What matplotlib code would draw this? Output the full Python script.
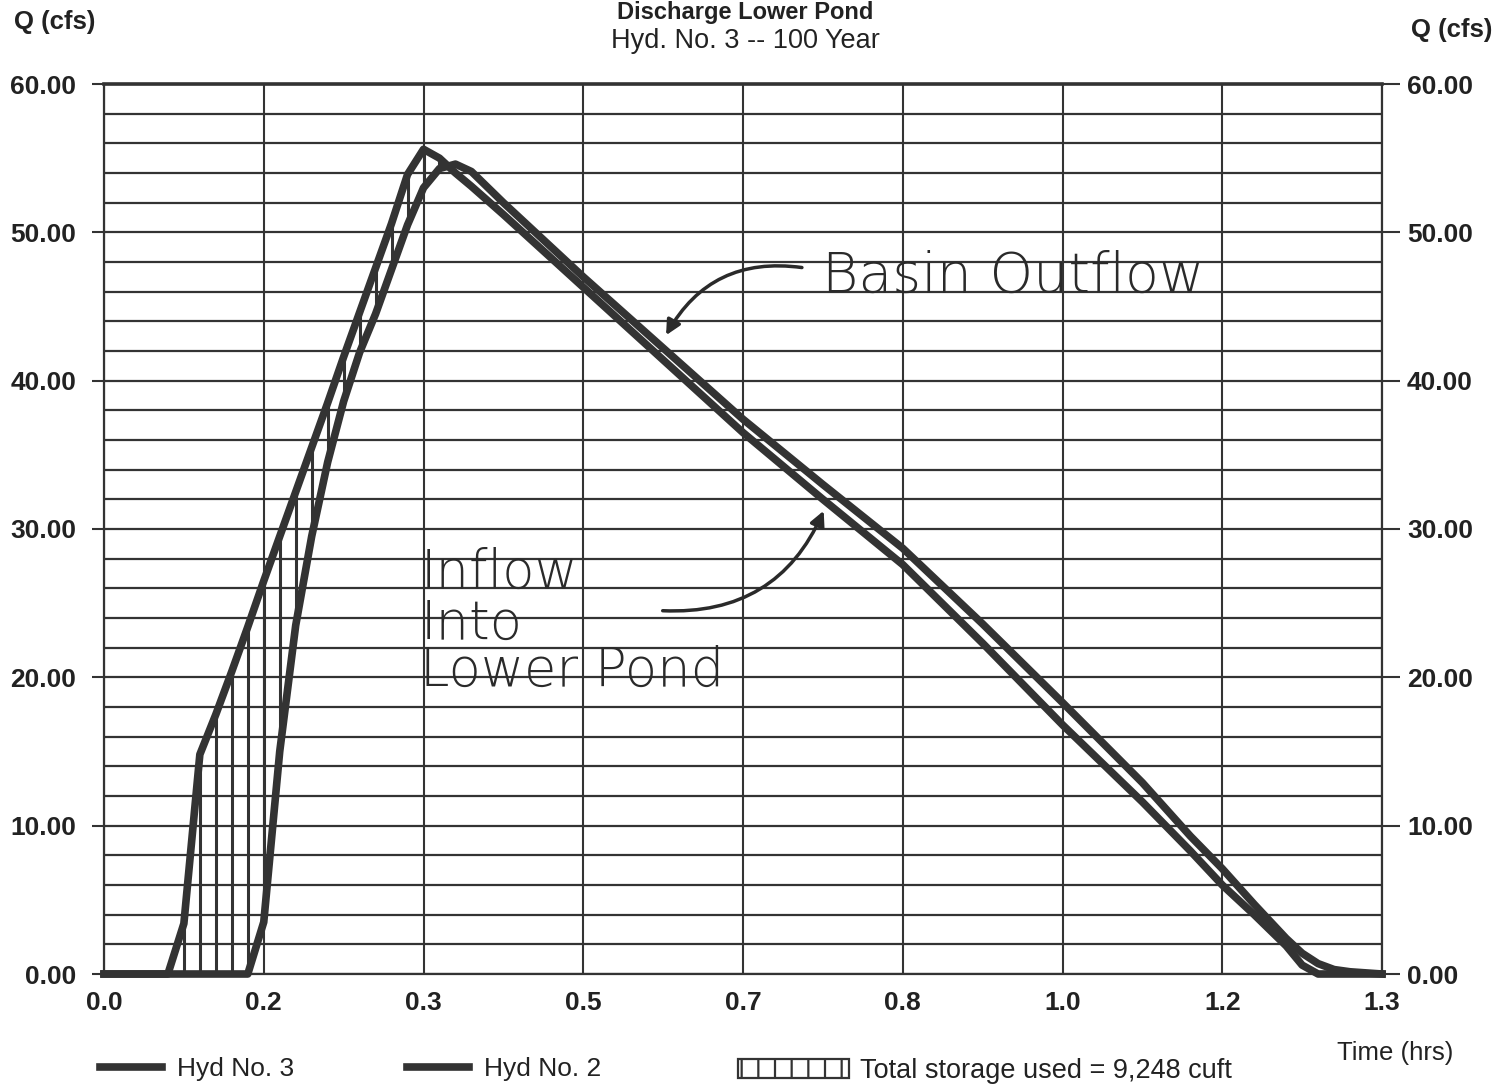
import matplotlib.pyplot as plt
import numpy as np
from matplotlib.lines import Line2D
from matplotlib.patches import Patch
from matplotlib.ticker import FormatStrFormatter

plt.rcParams['font.family'] = ['Liberation Sans', 'DejaVu Sans']
plt.rcParams['hatch.linewidth'] = 1.6
plt.rcParams['hatch.color'] = '#333333'

# hydrograph values (time in minutes, Q in cfs)
time_min = [0, 4, 5, 6, 7, 8, 9, 10, 11, 12, 13, 14, 15, 16, 17, 18, 19, 20,
            21, 22, 23, 25, 30, 35, 40, 45, 50, 55, 60, 65, 68, 70, 72, 74,
            75, 76, 77, 78, 80]
inflow_hyd2 = [0.0, 0.0, 3.4, 14.8, 17.5, 20.4, 23.4, 26.5, 29.5, 32.5, 35.5,
               38.5, 41.6, 44.6, 47.6, 50.6, 53.9, 55.6, 55.0, 54.0, 53.1,
               51.2, 46.3, 41.4, 36.5, 32.0, 27.6, 22.3, 16.8, 11.6, 8.3, 6.0,
               4.0, 1.9, 0.6, 0.0, 0.0, 0.0, 0.0]
outflow_hyd3 = [0.0, 0.0, 0.0, 0.0, 0.0, 0.0, 0.0, 3.5, 15.0, 23.5, 29.5,
                34.5, 38.6, 41.9, 44.5, 47.5, 50.5, 53.0, 54.3, 54.6, 54.1,
                52.0, 47.0, 42.2, 37.4, 33.0, 28.7, 23.6, 18.3, 12.9, 9.3, 7.1,
                4.7, 2.4, 1.4, 0.7, 0.3, 0.15, 0.0]

xtick_min = [0, 10, 20, 30, 40, 50, 60, 70, 80]
xtick_labels = ['0.0', '0.2', '0.3', '0.5', '0.7', '0.8', '1.0', '1.2', '1.3']
y_major = [0, 10, 20, 30, 40, 50, 60]
y_minor = list(range(0, 61, 2))

ink = '#333333'
W, H = 1511, 1086

t = np.array(time_min) / 60.0
q_in = np.array(inflow_hyd2)
q_out = np.array(outflow_hyd3)

fig = plt.figure(figsize=(W / 100, H / 100), dpi=100)
ax = fig.add_axes([104 / W, 1 - 974 / H, 1278 / W, 890 / H])

ax.set_xlim(0, 80 / 60)
ax.set_ylim(0, 60)
ax.set_xticks(np.array(xtick_min) / 60)
ax.set_xticklabels(xtick_labels)
ax.set_yticks(y_major)
ax.set_yticks(y_minor, minor=True)
ax.yaxis.set_major_formatter(FormatStrFormatter('%.2f'))
ax.grid(axis='x', which='major', color=ink, lw=1.5)
ax.grid(axis='y', which='both', color=ink, lw=1.6)
ax.set_axisbelow(True)
ax.tick_params(axis='x', length=0, pad=12, labelsize=19)
ax.tick_params(axis='y', which='major', length=9, width=1.5, pad=11,
               labelsize=19, color=ink)
ax.tick_params(axis='y', which='minor', length=0)
for lab in ax.get_xticklabels() + ax.get_yticklabels():
    lab.set_fontweight('bold')
    lab.set_color('#222222')
for side in ['left', 'right', 'bottom']:
    ax.spines[side].set_linewidth(1.6)
    ax.spines[side].set_color(ink)
ax.spines['top'].set_linewidth(2.6)
ax.spines['top'].set_color(ink)

ax2 = ax.twinx()
ax2.set_ylim(0, 60)
ax2.set_yticks(y_major)
ax2.yaxis.set_major_formatter(FormatStrFormatter('%.2f'))
ax2.tick_params(axis='y', length=13, width=1.5, pad=5, labelsize=19, color=ink)
for lab in ax2.get_yticklabels():
    lab.set_fontweight('bold')
    lab.set_color('#222222')
for sp in ax2.spines.values():
    sp.set_visible(False)

# storage hatching between inflow and outflow
store = q_in > q_out
ax.vlines(t[store], q_out[store], q_in[store], color=ink, lw=2.2, zorder=3)

ax.plot(t, q_in, color=ink, lw=5.5, solid_joinstyle='round', zorder=4,
        clip_on=False)
ax.plot(t, q_out, color=ink, lw=5.5, solid_joinstyle='round', zorder=4,
        clip_on=False)

# handwritten notes
hand = dict(family=['DejaVu Sans'], fontweight='light', color='#2a2a2a')
ax.text(0.749, 46.0, 'Basin Outflow', fontsize=40, va='baseline', **hand)
ax.annotate('', xy=(0.585, 42.9), xytext=(0.731, 47.6),
            arrowprops=dict(arrowstyle='-|>', color='#2a2a2a', lw=2.5,
                            mutation_scale=22,
                            connectionstyle='arc3,rad=0.35'))
ax.text(0.330, 26.0, 'Inflow', fontsize=38, va='baseline', **hand)
ax.text(0.330, 22.6, 'Into', fontsize=38, va='baseline', **hand)
ax.text(0.330, 19.4, 'Lower Pond', fontsize=38, va='baseline', **hand)
ax.annotate('', xy=(0.752, 31.4), xytext=(0.580, 24.5),
            arrowprops=dict(arrowstyle='-|>', color='#2a2a2a', lw=2.5,
                            mutation_scale=22,
                            connectionstyle='arc3,rad=0.35'))

# header texts
fig.text(745 / W, 1 - 19 / H, 'Discharge Lower Pond', ha='center',
         va='baseline', fontsize=17, fontweight='bold', color='#222222')
fig.text(745 / W, 1 - 41 / H, 'Hyd. No. 3 -- 100 Year', ha='center',
         va='center', fontsize=19.5, color='#222222')
fig.text(55 / W, 1 - 22 / H, 'Q (cfs)', ha='center', va='center',
         fontsize=18.5, fontweight='bold', color='#222222')
fig.text(1452 / W, 1 - 30 / H, 'Q (cfs)', ha='center', va='center',
         fontsize=18.5, fontweight='bold', color='#222222')
fig.text(1395 / W, 1 - 1053 / H, 'Time (hrs)', ha='center', va='center',
         fontsize=18.5, color='#222222')

# legend
h3 = Line2D([], [], color=ink, lw=5.5, label='Hyd No. 3')
h2 = Line2D([], [], color=ink, lw=5.5, label='Hyd No. 2')
leg1 = fig.legend(handles=[h3, h2], loc='center left',
                  bbox_to_anchor=(100 / W, 1 - 1069 / H), ncol=2,
                  frameon=False, handlelength=2.35, handletextpad=0.55,
                  columnspacing=4.3, borderpad=0, borderaxespad=0,
                  prop={'size': 19})
hp = Patch(facecolor='white', edgecolor=ink, hatch='|', lw=1.6,
           label='Total storage used = 9,248 cuft')
leg2 = fig.legend(handles=[hp], loc='center left',
                  bbox_to_anchor=(738 / W, 1 - 1071 / H), frameon=False,
                  handlelength=4.1, handleheight=0.75, handletextpad=0.4,
                  borderpad=0, borderaxespad=0, prop={'size': 19.5})
for leg in (leg1, leg2):
    for txt in leg.get_texts():
        txt.set_color('#222222')

fig.savefig('out.png', dpi=100)
